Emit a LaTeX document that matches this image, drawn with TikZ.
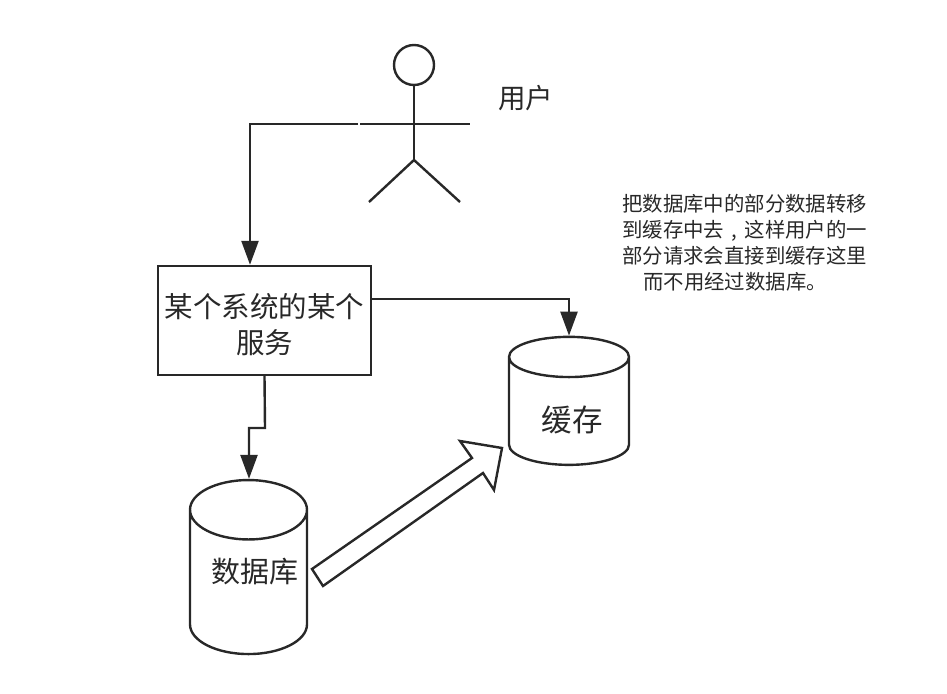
\documentclass[tikz,border=0pt]{standalone}
\usepackage{fontspec}
\setmainfont{Noto Sans CJK SC}
\usetikzlibrary{shapes.geometric,arrows.meta,positioning}
\definecolor{inkgray}{RGB}{40,40,40}
\tikzset{
  link/.style={draw=inkgray,line width=2.4pt,-{Triangle[length=24pt,width=17pt]}},
  stick/.style={draw=inkgray,line width=2.4pt},
  servicebox/.style={draw=inkgray,line width=2.4pt,minimum width=213pt,minimum height=109pt,inner sep=0pt,align=center,text=inkgray,font=\fontsize{28.5}{36}\selectfont},
  store/.style={cylinder,shape border rotate=90,draw=inkgray,line width=2.4pt,inner sep=0pt,aspect=0.6,font=\fontsize{29}{34}\selectfont,text=inkgray},
  note/.style={align=left,inner sep=0pt,text=inkgray,font=\fontsize{20.4}{26}\selectfont}
}
\begin{document}
\begin{tikzpicture}[x=1pt,y=-1pt]
  \useasboundingbox (0,0) rectangle (947,693);
  % stick figure
  \node (head) [circle,stick,minimum size=40pt,inner sep=0pt] at (414,65) {};
  \coordinate (hip) at (414,160);
  \coordinate (armleft) at (360,124);
  \coordinate (armright) at (470,124);
  \coordinate (linkstart) at (358,124);
  \coordinate (footleft) at (369,202);
  \coordinate (footright) at (460,202);
  \draw[stick] (head.south) -- (hip);
  \draw[stick] (armleft) -- (armright);
  \draw[stick] (footleft) -- (hip) -- (footright);
  \node (user) [anchor=west,inner sep=0pt,font=\fontsize{27.5}{30}\selectfont,text=inkgray] at (498,98) {用户};
  % service and stores
  \node (service) [servicebox] at (264.5,320.5) {\rule{0pt}{33pt}某个系统的某个\\服务};
  \node (cache) [store,minimum width=120pt,minimum height=128pt] at (569,411.5) {\raisebox{-19.5pt}[0pt][0pt]{\hspace{6pt}\fontsize{30.5}{34}\selectfont 缓存}};
  \node (db) [store,minimum width=117pt,minimum height=174pt] at (248.5,582.5) {\raisebox{0pt}[0pt][0pt]{\hspace{12pt}数据库}};
  \node (note) [note,anchor=north west] at (622,194) {把数据库中的部分数据转移\\到缓存中去\makebox[20.4pt]{,}这样用户的一\\部分请求会直接到缓存这里\\\hspace{21pt}而不用经过数据库。};
  % connectors
  \draw[link] (linkstart) -| (service.north -| 250,0);
  \draw[link] (service.east |- 0,299) -| (cache.north);
  \draw[link] (service.south) -- (265,428) -- (249,428) -- (db.north -| 249,0);
  % migration arrow
  \draw[stick,line join=miter] (312,569) -- (472,458) -- (460,441) -- (502,448) -- (494,490) -- (483,473) -- (323,586) -- cycle;
\end{tikzpicture}
\end{document}
